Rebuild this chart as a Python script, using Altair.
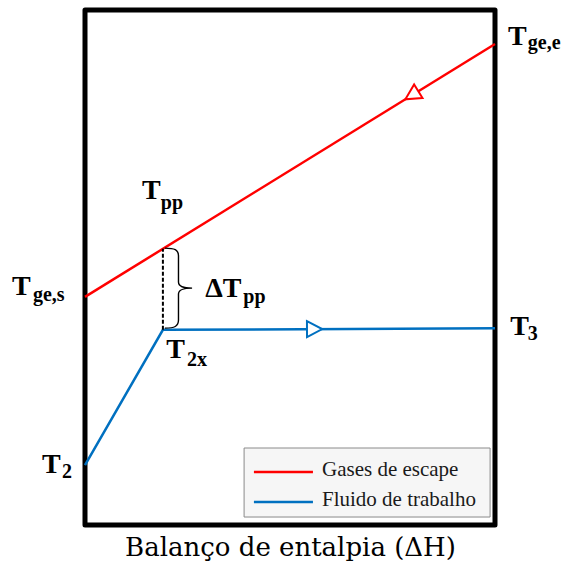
import math
import altair as alt
import pandas as pd

# --- temperature profiles along the enthalpy balance (arbitrary units, 0-100) ---
series = ["Gases de escape", "Fluido de trabalho"]
series_colors = ["#ff0000", "#0070c0"]

gas_dh = [0, 100]
gas_t = [44.3, 93.4]

fluid_dh = [0, 19, 100]
fluid_t = [11.65, 37.9, 38.2]

# pinch point (vertical gap between the two curves)
pinch_dh = [19]
pinch_gas_t = [53.63]
pinch_fluid_t = [37.9]
brace_dh = [22.8]
brace_t = [46.0]

# flow-direction arrow heads, one per stream
arrow_dh = [79.8, 55.9]

# state labels: main symbol + subscript
label_main = ["T", "T", "T", "ΔT", "T", "T", "T"]
label_main_dh = [103.2, -17.8, 13.9, 29.3, 19.8, 103.7, -10.5]
label_main_t = [93.2, 44.7, 63.3, 44.3, 32.4, 36.9, 10.1]
label_sub = ["ge,e", "ge,s", "pp", "pp", "2x", "3", "2"]
label_sub_dh = [108.0, -12.7, 18.5, 38.6, 24.9, 108.0, -5.6]
label_sub_t = [92.4, 43.5, 61.4, 43.1, 30.9, 35.9, 9.1]

# legend box contents
legend_box_dh = [38.8, 98.8]
legend_box_t = [1.55, 14.95]
legend_line_dh = [41.2, 55.6]
legend_line_t = [10.29, 4.47]
legend_text_dh = 57.8
legend_text_t = [9.51, 3.69]

W, H = 410, 515
WIDE_SERIF = "DejaVu Serif"
TIMES = "Liberation Serif"

x_scale = alt.Scale(domain=[0, 100], nice=False, zero=False)
y_scale = alt.Scale(domain=[0, 100], nice=False, zero=False)
x_axis = alt.Axis(
    title="Balanço de entalpia (ΔH)", labels=False, ticks=False, domain=False,
    grid=False, titleFont=WIDE_SERIF, titleFontSize=26, titleFontWeight="normal",
    titleColor="black", titlePadding=9,
)
color_scale = alt.Scale(domain=series, range=series_colors)


def X(field):
    return alt.X(field, type="quantitative", scale=x_scale, axis=x_axis)


def Y(field):
    return alt.Y(field, type="quantitative", scale=y_scale, axis=None)


# line data
rows = []
for i, (d, t) in enumerate(zip(gas_dh, gas_t)):
    rows.append({"serie": series[0], "dh": d, "t": t, "o": i})
for i, (d, t) in enumerate(zip(fluid_dh, fluid_t)):
    rows.append({"serie": series[1], "dh": d, "t": t, "o": i})
lines_df = pd.DataFrame(rows)


def on_line(dhs, ts, d):
    for k in range(len(dhs) - 1):
        if dhs[k] <= d <= dhs[k + 1]:
            f = (d - dhs[k]) / (dhs[k + 1] - dhs[k])
            return ts[k] + f * (ts[k + 1] - ts[k])
    return ts[-1]


def heading(dhs, ts, d, backwards):
    # screen angle (degrees, clockwise) of the segment containing d
    for k in range(len(dhs) - 1):
        if dhs[k] <= d <= dhs[k + 1]:
            px = (dhs[k + 1] - dhs[k]) * W / 100
            py = -(ts[k + 1] - ts[k]) * H / 100
            a = math.degrees(math.atan2(py, px))
            if backwards:
                a += 180
            return a % 360
    return 0


arrow_rows = [
    {"serie": series[0], "dh": arrow_dh[0],
     "t": on_line(gas_dh, gas_t, arrow_dh[0]),
     "ang": heading(gas_dh, gas_t, arrow_dh[0], True)},
    {"serie": series[1], "dh": arrow_dh[1],
     "t": on_line(fluid_dh, fluid_t, arrow_dh[1]),
     "ang": heading(fluid_dh, fluid_t, arrow_dh[1], False)},
]
arrows_df = pd.DataFrame(arrow_rows)

lines = alt.Chart(lines_df).mark_line(strokeWidth=2.5).encode(
    x=X("dh"), y=Y("t"),
    color=alt.Color("serie:N", scale=color_scale, legend=None),
    order="o:Q",
)

TRIANGLE = "M -0.9 -1 L 1 0 L -0.9 1 Z"
arrows = alt.Chart(arrows_df).mark_point(
    shape=TRIANGLE, size=256, filled=True, fill="white", strokeWidth=2, opacity=1
).encode(
    x=X("dh"), y=Y("t"),
    stroke=alt.Stroke("serie:N", scale=color_scale, legend=None),
    angle=alt.Angle("ang:Q", scale=None),
)

pinch_df = pd.DataFrame({"dh": pinch_dh, "t1": pinch_fluid_t, "t2": pinch_gas_t})
pinch = alt.Chart(pinch_df).mark_rule(
    color="black", strokeWidth=2, strokeDash=[4, 2]
).encode(x=X("dh"), y=Y("t1"), y2="t2")

BRACE = ("M -0.34 -1 C -0.1 -1 0 -0.96 0 -0.8 L 0 -0.15 "
         "C 0 -0.04 0.12 0 0.34 0 C 0.12 0 0 0.04 0 0.15 L 0 0.8 "
         "C 0 0.96 -0.1 1 -0.34 1")
brace = alt.Chart(pd.DataFrame({"dh": brace_dh, "t": brace_t})).mark_point(
    shape=BRACE, size=6400, filled=False, stroke="black", strokeWidth=1.4, opacity=1
).encode(x=X("dh"), y=Y("t"))

main_df = pd.DataFrame({"txt": label_main, "dh": label_main_dh, "t": label_main_t})
sub_df = pd.DataFrame({"txt": label_sub, "dh": label_sub_dh, "t": label_sub_t})
main_labels = alt.Chart(main_df).mark_text(
    font=TIMES, fontSize=28, fontWeight="bold", align="left",
    baseline="alphabetic", color="black"
).encode(x=X("dh"), y=Y("t"), text="txt:N")
sub_labels = alt.Chart(sub_df).mark_text(
    font=TIMES, fontSize=20, fontWeight="bold", align="left",
    baseline="alphabetic", color="black"
).encode(x=X("dh"), y=Y("t"), text="txt:N")

# legend drawn inside the plot frame
box_df = pd.DataFrame({"x1": [legend_box_dh[0]], "x2": [legend_box_dh[1]],
                       "y1": [legend_box_t[0]], "y2": [legend_box_t[1]]})
legend_box = alt.Chart(box_df).mark_rect(
    fill="#f6f6f6", stroke="#8a8a8a", strokeWidth=1
).encode(x=X("x1"), x2="x2", y=Y("y1"), y2="y2")

leg_df = pd.DataFrame({
    "serie": series,
    "x1": [legend_line_dh[0]] * 2, "x2": [legend_line_dh[1]] * 2,
    "ly": legend_line_t, "tx": [legend_text_dh] * 2, "ty": legend_text_t,
})
legend_lines = alt.Chart(leg_df).mark_rule(strokeWidth=2.5).encode(
    x=X("x1"), x2="x2", y=Y("ly"),
    color=alt.Color("serie:N", scale=color_scale, legend=None),
)
legend_text = alt.Chart(leg_df).mark_text(
    font=TIMES, fontSize=21, align="left", baseline="alphabetic", color="#1a1a1a"
).encode(x=X("tx"), y=Y("ty"), text="serie:N")

chart = alt.layer(
    lines, pinch, brace, arrows, main_labels, sub_labels,
    legend_box, legend_lines, legend_text,
).properties(
    width=W, height=H,
    padding={"left": 85, "top": 10, "right": 69, "bottom": 41},
    autosize="none",
    background="white",
).configure_view(
    stroke="black", strokeWidth=5, strokeJoin="round"
)

chart.save("out.html", embed_options={"renderer": "svg", "actions": False})
